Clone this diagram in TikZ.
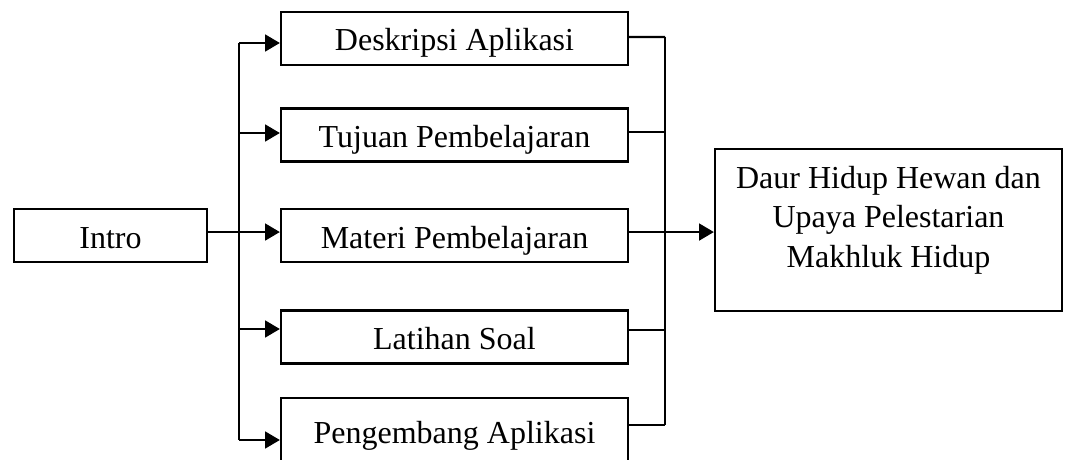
\documentclass[tikz,border=0pt]{standalone}
\usepackage{fontspec}
\setmainfont{Liberation Serif}
\usetikzlibrary{arrows.meta}
\begin{document}
\begin{tikzpicture}[x=0.75pt,y=-0.75pt,
  every node/.style={font=\fontsize{24pt}{29.6pt}\selectfont},
  box/.style={draw,line width=1.7pt,inner sep=0pt,minimum width=260.25pt,minimum height=39.75pt,text height=18.75pt,text depth=0pt},
  introbox/.style={box,minimum width=144.75pt},
  lastbox/.style={box,minimum height=60pt,text height=7.5pt},
  bigbox/.style={draw,line width=1.7pt,inner sep=0pt,minimum width=260.25pt,minimum height=121.5pt,align=center,text height=55.5pt,text depth=0pt},
  conn/.style={line width=1.7pt},
  arr/.style={line width=1.7pt,-{Triangle[length=11pt,width=12.5pt]}}]
\clip (0,0) rectangle (1070,460);
\node[introbox] (intro) at (110.5,235.5) {Intro};
\node[box] (b1) at (454.5,38.5) {Deskripsi Aplikasi};
\node[box] (b2) at (454.5,135) {Tujuan Pembelajaran};
\node[box] (b3) at (454.5,235.5) {Materi Pembelajaran};
\node[box] (b4) at (454.5,337) {Latihan Soal};
\node[lastbox] (b5) at (454.5,438) {Pengembang Aplikasi};
\node[bigbox] (daur) at (888.5,230) {Daur Hidup Hewan dan\\Upaya Pelestarian\\Makhluk Hidup};
% left trunk
\coordinate (ttop) at (239,43);
\coordinate (tbot) at (239,440);
\draw[conn] (ttop) -- (tbot);
\draw[arr] ([yshift=2.6pt]intro.east) -- ([yshift=2.6pt]b3.west);
\draw[arr] (ttop) -- (ttop -| b1.west);
\draw[arr] ([yshift=1.5pt]b2.west -| ttop) -- ([yshift=1.5pt]b2.west);
\draw[arr] ([yshift=6pt]b4.west -| ttop) -- ([yshift=6pt]b4.west);
\draw[arr] (tbot) -- (tbot -| b5.west);
% right trunk
\coordinate (rtop) at (665,37);
\coordinate (rbot) at (665,425);
\draw[conn] (rtop) -- (rbot);
\draw[conn] ([yshift=1.1pt]b1.east) -- (rtop);
\draw[conn] ([yshift=2.25pt]b2.east) -- ([yshift=2.25pt]b2.east -| rtop);
\draw[conn] ([yshift=5.25pt]b4.east) -- ([yshift=5.25pt]b4.east -| rtop);
\draw[conn] ([yshift=9.75pt]b5.east) -- (rbot);
\draw[arr] ([yshift=2.6pt]b3.east) -- ([yshift=2.6pt]b3.east -| daur.west);
\end{tikzpicture}
\end{document}
